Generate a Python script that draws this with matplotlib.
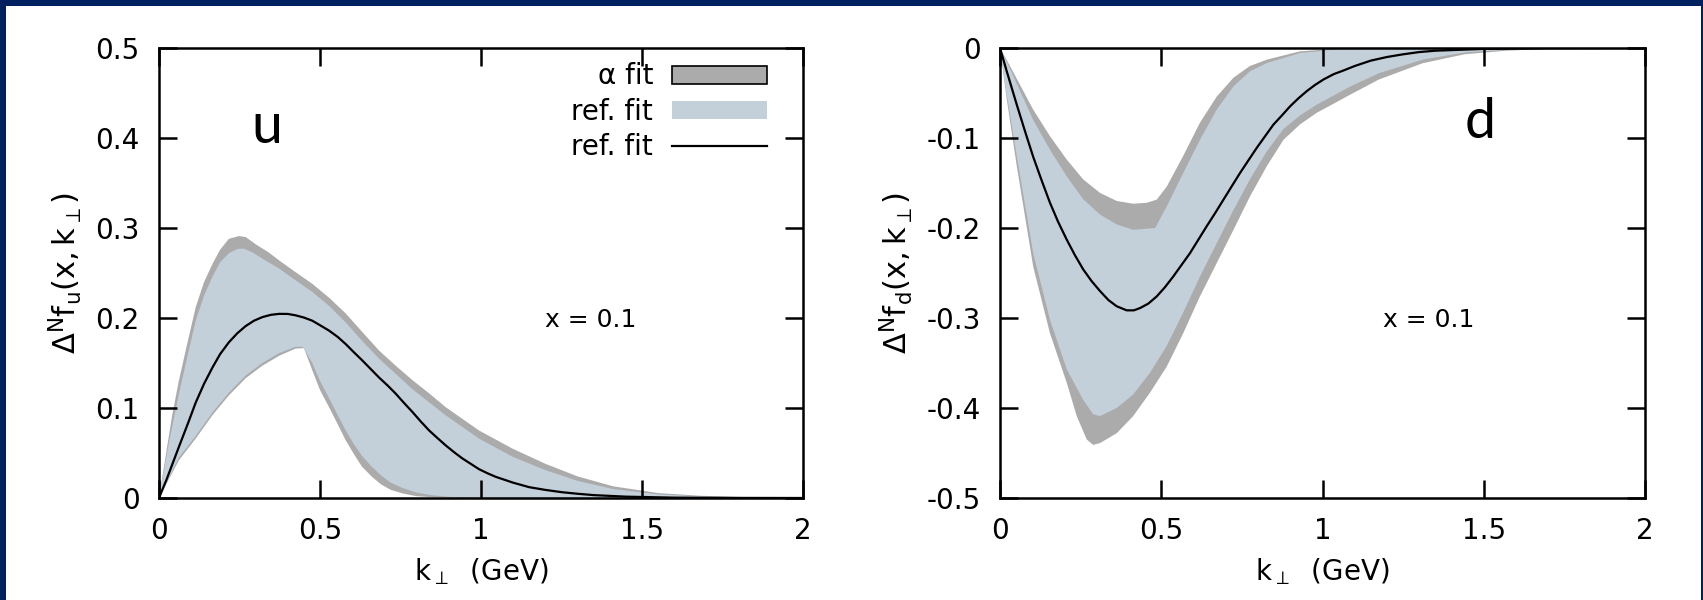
import numpy as np
import matplotlib
matplotlib.use("Agg")
from matplotlib import pyplot as plt
from matplotlib.patches import Rectangle, Patch
from matplotlib.lines import Line2D

plt.rcParams['font.family'] = ['DejaVu Sans']
plt.rcParams['mathtext.fontset'] = 'dejavusans'

# ---- u quark panel ----
u_alpha_hi_k = [0, 0.02, 0.04, 0.062, 0.09, 0.114, 0.14, 0.166, 0.19, 0.217, 0.248, 0.269, 0.30, 0.34, 0.373,
                0.42, 0.476, 0.53, 0.58, 0.63, 0.683, 0.735, 0.787, 0.84, 0.89, 0.994, 1.097, 1.2, 1.3, 1.41,
                1.55, 1.68, 1.81, 2.0]
u_alpha_hi = [0, 0.045, 0.09, 0.131, 0.175, 0.212, 0.240, 0.260, 0.276, 0.288, 0.291, 0.290, 0.282, 0.273, 0.264,
              0.252, 0.238, 0.222, 0.205, 0.185, 0.164, 0.147, 0.131, 0.116, 0.101, 0.075, 0.055, 0.038, 0.024, 0.013,
              0.0055, 0.0025, 0.001, 0]
u_ref_hi_k = [0, 0.03, 0.062, 0.09, 0.114, 0.14, 0.166, 0.19, 0.217, 0.245, 0.264, 0.29, 0.33, 0.373, 0.42, 0.476,
              0.53, 0.58, 0.63, 0.683, 0.735, 0.787, 0.84, 0.89, 0.994, 1.097, 1.2, 1.3, 1.41, 1.55, 1.68, 1.81, 2.0]
u_ref_hi = [0, 0.06, 0.116, 0.16, 0.197, 0.225, 0.246, 0.262, 0.272, 0.277, 0.277, 0.273, 0.264, 0.255, 0.243, 0.229,
            0.213, 0.195, 0.175, 0.155, 0.138, 0.121, 0.106, 0.092, 0.066, 0.046, 0.031, 0.019, 0.010, 0.004, 0.0017,
            0.0006, 0]
u_alpha_lo_k = [0, 0.062, 0.114, 0.166, 0.217, 0.269, 0.321, 0.373, 0.424, 0.45, 0.476, 0.50, 0.528, 0.555, 0.58,
                0.605, 0.63, 0.66, 0.69, 0.72, 0.757, 0.80, 0.85, 0.9, 1.0, 2.0]
u_alpha_lo = [0, 0.042, 0.066, 0.092, 0.114, 0.133, 0.147, 0.158, 0.166, 0.1665, 0.142, 0.12, 0.101, 0.082, 0.064,
              0.049, 0.035, 0.024, 0.015, 0.009, 0.005, 0.002, 0.0008, 0.0003, 0, 0]
u_ref_lo_k = [0, 0.062, 0.114, 0.166, 0.217, 0.269, 0.321, 0.373, 0.424, 0.447, 0.476, 0.50, 0.528, 0.555, 0.58,
              0.605, 0.63, 0.66, 0.69, 0.72, 0.757, 0.80, 0.85, 0.9, 1.0, 2.0]
u_ref_lo = [0, 0.045, 0.069, 0.095, 0.117, 0.136, 0.150, 0.161, 0.168, 0.168, 0.150, 0.130, 0.111, 0.092, 0.075,
            0.060, 0.047, 0.035, 0.025, 0.017, 0.011, 0.006, 0.003, 0.0013, 0, 0]
u_line_k = [0, 0.024, 0.062, 0.09, 0.114, 0.14, 0.166, 0.19, 0.217, 0.243, 0.269, 0.295, 0.321, 0.347, 0.373, 0.40,
            0.424, 0.45, 0.476, 0.50, 0.528, 0.555, 0.58, 0.605, 0.631, 0.657, 0.683, 0.71, 0.735, 0.76, 0.787, 0.813,
            0.839, 0.865, 0.89, 0.916, 0.942, 0.968, 0.994, 1.02, 1.046, 1.1, 1.15, 1.2, 1.25, 1.3, 1.35, 1.45, 1.6,
            1.8, 2.0]
u_line = [0, 0.021, 0.057, 0.083, 0.106, 0.127, 0.145, 0.160, 0.173, 0.183, 0.191, 0.197, 0.201, 0.2035, 0.2046,
          0.2045, 0.203, 0.2005, 0.197, 0.192, 0.186, 0.179, 0.171, 0.162, 0.153, 0.1435, 0.134, 0.125, 0.116, 0.106,
          0.0956, 0.085, 0.075, 0.0665, 0.0586, 0.051, 0.044, 0.038, 0.032, 0.0275, 0.0235, 0.017, 0.012, 0.009,
          0.0065, 0.0047, 0.0032, 0.0015, 0.0004, 0.0001, 0]

# ---- d quark panel ----
d_alpha_hi_k = [0, 0.031, 0.103, 0.155, 0.207, 0.258, 0.31, 0.362, 0.413, 0.455, 0.486, 0.517, 0.568, 0.62, 0.672,
                0.724, 0.775, 0.827, 0.93, 1.034, 1.2, 2.0]
d_alpha_hi = [0, -0.020, -0.0685, -0.098, -0.124, -0.146, -0.161, -0.170, -0.173, -0.172, -0.1685, -0.154, -0.120,
              -0.083, -0.054, -0.033, -0.020, -0.013, -0.0037, -0.001, 0, 0]
d_ref_hi_k = [0, 0.031, 0.103, 0.155, 0.207, 0.258, 0.31, 0.362, 0.413, 0.481, 0.517, 0.568, 0.62, 0.672, 0.724,
              0.775, 0.827, 0.93, 1.034, 1.2, 2.0]
d_ref_hi = [0, -0.023, -0.080, -0.113, -0.1426, -0.168, -0.185, -0.196, -0.202, -0.200, -0.176, -0.139, -0.102,
            -0.0685, -0.0426, -0.026, -0.0167, -0.0056, -0.002, -0.0003, 0]
d_alpha_lo_k = [0, 0.021, 0.052, 0.103, 0.155, 0.207, 0.238, 0.269, 0.289, 0.31, 0.362, 0.413, 0.465, 0.517, 0.568,
                0.62, 0.672, 0.724, 0.775, 0.827, 0.879, 0.93, 0.982, 1.034, 1.085, 1.175, 1.31, 1.44, 1.57, 1.7,
                1.85, 2.0]
d_alpha_lo = [0, -0.057, -0.131, -0.243, -0.317, -0.372, -0.409, -0.435, -0.441, -0.439, -0.428, -0.409, -0.383,
              -0.354, -0.317, -0.276, -0.239, -0.202, -0.165, -0.1315, -0.102, -0.085, -0.072, -0.062, -0.052,
              -0.035, -0.017, -0.007, -0.003, -0.001, -0.0003, 0]
d_ref_lo_k = [0, 0.021, 0.052, 0.103, 0.155, 0.207, 0.258, 0.289, 0.31, 0.362, 0.413, 0.465, 0.517, 0.568, 0.62,
              0.672, 0.724, 0.775, 0.827, 0.879, 0.93, 0.982, 1.034, 1.085, 1.175, 1.31, 1.44, 1.57, 1.7, 1.85, 2.0]
d_ref_lo = [0, -0.052, -0.120, -0.228, -0.302, -0.357, -0.391, -0.407, -0.409, -0.400, -0.385, -0.361, -0.331,
            -0.294, -0.254, -0.217, -0.180, -0.146, -0.115, -0.090, -0.075, -0.063, -0.053, -0.043, -0.028, -0.013,
            -0.005, -0.002, -0.0007, -0.0002, 0]
d_line_k = [0, 0.021, 0.052, 0.078, 0.103, 0.13, 0.155, 0.18, 0.207, 0.232, 0.258, 0.284, 0.31, 0.336, 0.362, 0.393,
            0.415, 0.434, 0.46, 0.486, 0.511, 0.537, 0.563, 0.589, 0.615, 0.641, 0.667, 0.692, 0.718, 0.744, 0.77,
            0.796, 0.822, 0.848, 0.874, 0.899, 0.925, 0.951, 0.977, 1.003, 1.035, 1.065, 1.1, 1.15, 1.2, 1.25, 1.3,
            1.35, 1.5, 1.7, 2.0]
d_line = [0, -0.026, -0.063, -0.093, -0.121, -0.148, -0.172, -0.193, -0.213, -0.230, -0.246, -0.259, -0.270, -0.280,
          -0.287, -0.2915, -0.2915, -0.289, -0.284, -0.276, -0.266, -0.254, -0.241, -0.228, -0.213, -0.198, -0.1835,
          -0.169, -0.154, -0.139, -0.125, -0.111, -0.098, -0.085, -0.075, -0.065, -0.056, -0.048, -0.041, -0.035,
          -0.029, -0.025, -0.020, -0.014, -0.010, -0.007, -0.0045, -0.003, -0.001, -0.0002, 0]

x_ticks = [0, 0.5, 1, 1.5, 2]
x_tick_labels = ['0', '0.5', '1', '1.5', '2']
u_yticks = [0, 0.1, 0.2, 0.3, 0.4, 0.5]
u_ytick_labels = ['0', '0.1', '0.2', '0.3', '0.4', '0.5']
d_yticks = [-0.5, -0.4, -0.3, -0.2, -0.1, 0]
d_ytick_labels = ['-0.5', '-0.4', '-0.3', '-0.2', '-0.1', '0']
legend_labels = ['α fit', 'ref. fit', 'ref. fit']

gray = '#ababab'
blue = '#c3cfd9'
navy = '#002060'

fig = plt.figure(figsize=(17.03, 6.0), dpi=100)
fig.patch.set_facecolor(navy)
fig.add_artist(Rectangle((6 / 1703, 0), 1695 / 1703, 594 / 600, transform=fig.transFigure,
                         facecolor='white', edgecolor='none', zorder=-5))

ax_u = fig.add_axes([159 / 1703, 102 / 600, 644 / 1703, 450 / 600])
ax_d = fig.add_axes([1000 / 1703, 102 / 600, 645 / 1703, 450 / 600])


def band(ax, k_hi, v_hi, k_lo, v_lo, color):
    xs = np.concatenate([k_hi, k_lo[::-1]])
    ys = np.concatenate([v_hi, v_lo[::-1]])
    ax.fill(xs, ys, color=color, lw=0, zorder=1)


def style(ax, yticks, ylabels, ylim, flav):
    ax.set_xlim(0, 2)
    ax.set_ylim(*ylim)
    ax.set_xticks(x_ticks)
    ax.set_xticklabels(x_tick_labels)
    ax.set_yticks(yticks)
    ax.set_yticklabels(ylabels)
    ax.tick_params(direction='in', length=13, width=1.8, top=True, right=True,
                   labelsize=20, pad=14, color='black')
    for s in ax.spines.values():
        s.set_linewidth(1.8)
        s.set_zorder(5)
    ax.set_xlabel(r'$\mathregular{k_{\perp}}$  (GeV)', fontsize=20, labelpad=8)
    ax.set_ylabel(r'$\mathregular{\Delta^{N}f_{%s}(x,k_{\perp})}$' % flav, fontsize=22, labelpad=8)
    ax.patch.set_alpha(0)


band(ax_u, np.array(u_alpha_hi_k), np.array(u_alpha_hi), np.array(u_alpha_lo_k), np.array(u_alpha_lo), gray)
band(ax_u, np.array(u_ref_hi_k), np.array(u_ref_hi), np.array(u_ref_lo_k), np.array(u_ref_lo), blue)
ax_u.plot(u_line_k, u_line, color='black', lw=1.6, zorder=3)
style(ax_u, u_yticks, u_ytick_labels, (0, 0.5), 'u')
ax_u.text(0.335, 0.412, 'u', fontsize=40, ha='center', va='center', family='Lato')
ax_u.text(1.34, 0.198, 'x = 0.1', fontsize=18, ha='center', va='center')

handles = [Patch(facecolor=gray, edgecolor='black', lw=1.2),
           Patch(facecolor=blue, edgecolor='none'),
           Line2D([], [], color='black', lw=1.6)]
ax_u.legend(handles, legend_labels, loc='upper right', bbox_to_anchor=(0.944, 0.968), frameon=False,
            markerfirst=False, fontsize=20, handlelength=3.4, handleheight=0.62, handletextpad=0.7,
            labelspacing=0.27, borderpad=0, borderaxespad=0)

band(ax_d, np.array(d_alpha_hi_k), np.array(d_alpha_hi), np.array(d_alpha_lo_k), np.array(d_alpha_lo), gray)
band(ax_d, np.array(d_ref_hi_k), np.array(d_ref_hi), np.array(d_ref_lo_k), np.array(d_ref_lo), blue)
ax_d.plot(d_line_k, d_line, color='black', lw=1.6, zorder=3)
style(ax_d, d_yticks, d_ytick_labels, (-0.5, 0), 'd')
ax_d.text(1.49, -0.083, 'd', fontsize=40, ha='center', va='center', family='Lato')
ax_d.text(1.33, -0.302, 'x = 0.1', fontsize=18, ha='center', va='center')

fig.savefig('out.png', dpi=100, facecolor=fig.get_facecolor())
